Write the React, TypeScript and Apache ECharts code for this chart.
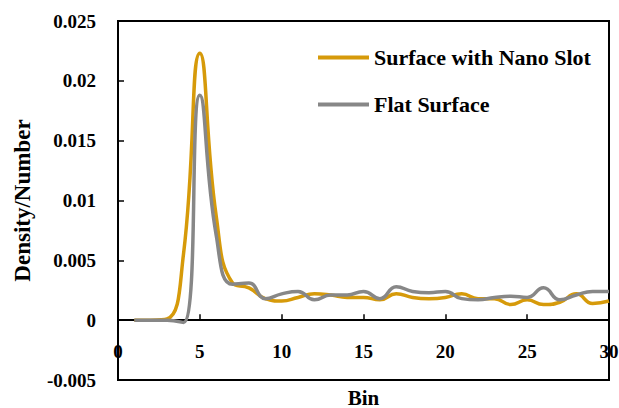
import React, { useEffect, useRef } from "react";
import * as echarts from "echarts";

const bins = [1, 2, 3, 4, 5, 6, 7, 8, 9, 10, 11, 12, 13, 14, 15, 16, 17, 18, 19, 20, 21, 22, 23, 24, 25, 26, 27, 28, 29, 30];
const nanoSlot = [0, 0, 0.0001, 0.0055, 0.0223, 0.0087, 0.0031, 0.0027, 0.0018, 0.0016, 0.0019, 0.0022, 0.0021, 0.0019, 0.0019, 0.0017, 0.0022, 0.0019, 0.0018, 0.0019, 0.0022, 0.0018, 0.0018, 0.0013, 0.0017, 0.0013, 0.0015, 0.0022, 0.0014, 0.0016];
const flatSurface = [0, 0, 0, -0.0002, 0.0188, 0.0071, 0.003, 0.0031, 0.0018, 0.0022, 0.0024, 0.0017, 0.0021, 0.0021, 0.0024, 0.0018, 0.0028, 0.0024, 0.0023, 0.0024, 0.0018, 0.0017, 0.0019, 0.002, 0.0019, 0.0027, 0.0017, 0.0021, 0.0024, 0.0024];
const seriesNames = ["Surface with Nano Slot", "Flat Surface"];

const FONT = "'Liberation Serif', 'Times New Roman', serif";

export default function App() {
  const ref = useRef<HTMLDivElement>(null);
  useEffect(() => {
    if (!ref.current) return;
    const chart = echarts.init(ref.current, null, { renderer: "svg" });
    const textBase = { fontFamily: FONT, fontWeight: "bold" as const, fontSize: 19, color: "#000" };
    chart.setOption({
      animation: false,
      backgroundColor: "#fff",
      grid: {
        left: 118, right: 10, top: 21, bottom: 28,
        show: true, borderColor: "#000", borderWidth: 2,
        outerBoundsMode: "none",
        containLabel: false,
      },
      legend: {
        orient: "vertical",
        left: 313,
        top: 41,
        icon: "rect",
        itemWidth: 51,
        itemHeight: 4,
        itemGap: 24,
        textStyle: { ...textBase, fontSize: 22, lineHeight: 23 },
        data: seriesNames,
      },
      xAxis: {
        type: "value",
        min: 0,
        max: 30,
        interval: 5,
        name: "Bin",
        nameLocation: "middle",
        nameGap: 7,
        nameTextStyle: { ...textBase, fontSize: 21 },
        axisLine: { onZero: true, lineStyle: { color: "#000", width: 2 } },
        axisTick: { show: true, inside: true, length: 6, lineStyle: { color: "#000", width: 1.5 } },
        axisLabel: { ...textBase, margin: -38 },
        splitLine: { show: false },
      },
      yAxis: {
        type: "value",
        min: -0.005,
        max: 0.025,
        interval: 0.005,
        name: "Density/Number",
        nameLocation: "middle",
        nameGap: 84,
        nameTextStyle: { ...textBase, fontSize: 23 },
        axisLine: { show: true, onZero: false, lineStyle: { color: "#000", width: 2 } },
        axisTick: { show: true, inside: true, length: 6, lineStyle: { color: "#000", width: 1.5 } },
        axisLabel: {
          ...textBase,
          margin: 22,
          formatter: (v: number) => String(Number(v.toFixed(3))),
        },
        splitLine: { show: false },
      },
      series: [
        {
          name: seriesNames[0],
          type: "line",
          smooth: 0.5,
          symbol: "none",
          data: bins.map((b, i) => [b, nanoSlot[i]]),
          itemStyle: { color: "#D69A0A" },
          lineStyle: { color: "#D69A0A", width: 3.5 },
          z: 2,
        },
        {
          name: seriesNames[1],
          type: "line",
          smooth: 0.5,
          symbol: "none",
          data: bins.map((b, i) => [b, flatSurface[i]]),
          itemStyle: { color: "#878787" },
          lineStyle: { color: "#878787", width: 3.5 },
          z: 3,
        },
      ],
    });
    return () => chart.dispose();
  }, []);
  return <div ref={ref} style={{ width: 619, height: 408, position: "absolute", left: 0, top: 0 }} />;
}
